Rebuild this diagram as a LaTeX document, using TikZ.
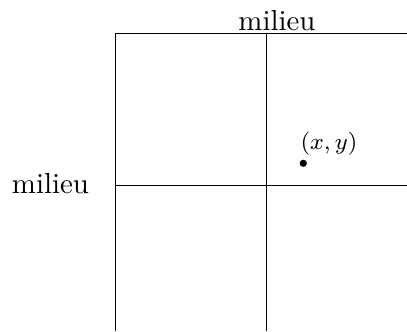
\documentclass[tikz,border=0pt]{standalone}
\begin{document}
\begin{tikzpicture}[x=0.346pt,y=-0.346pt,
  gridline/.style={line width=0.4pt,black},
  lbl/.style={inner sep=0pt,anchor=base,font=\normalsize},
  ptlbl/.style={inner sep=0pt,anchor=center,font=\footnotesize}]
\useasboundingbox (0,0) rectangle (407,331);
\coordinate (tl) at (115.5,33.5);
\coordinate (tr) at (407,33.5);
\coordinate (bl) at (115.5,331);
\coordinate (tm) at (266.5,33.5);
\coordinate (bm) at (266.5,331);
\coordinate (ml) at (115.5,185.5);
\coordinate (mr) at (407,185.5);
\draw[gridline] (bl) -- (tl) -- (tr);
\draw[gridline] (tm) -- (bm);
\draw[gridline] (ml) -- (mr);
\node[lbl] (top) at (277,30) {milieu};
\node[lbl] (left) at (50.5,193) {milieu};
\fill (303.3,163.3) circle[radius=1.25pt] coordinate (p);
\node[ptlbl] (plbl) at (329,144) {$(x,y)$};
\end{tikzpicture}
\end{document}
